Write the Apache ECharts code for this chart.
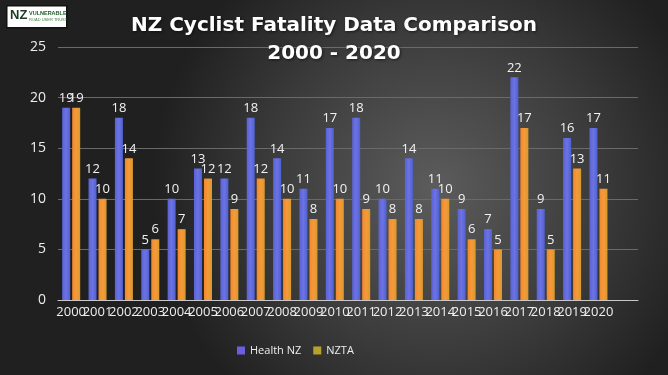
<!DOCTYPE html>
<html>
<head>
<meta charset="utf-8">
<script src="https://cdn.jsdelivr.net/npm/echarts@6/dist/echarts.min.js"></script>
<style>
  html, body { margin: 0; padding: 0; }
  #chart { width: 668px; height: 375px; }
</style>
</head>
<body>
<div id="chart"></div>
<script>
// data
const years = ['2000','2001','2002','2003','2004','2005','2006','2007','2008','2009','2010',
               '2011','2012','2013','2014','2015','2016','2017','2018','2019','2020']
const healthNZ = [19,12,18,5,10,13,12,18,14,11,17,18,10,14,11,9,7,22,9,16,17]
const nzta = [19,10,14,6,7,12,9,12,10,8,10,9,8,8,10,6,5,17,5,13,11]

let myChart = echarts.init(document.getElementById('chart'))

let labelStyle = {
  show: true,
  position: 'top',
  color: '#f2f2f2',
  fontSize: 13,
  fontFamily: 'Open Sans',
  distance: 3
}

myChart.setOption({
  backgroundColor: {
    type: 'radial', x: 0.65, y: 0.5, r: 0.75,
    colorStops: [
      { offset: 0, color: '#5c5c5c' },
      { offset: 0.6, color: '#3a3a3a' },
      { offset: 1, color: '#202020' }
    ]
  },
  title: {
    text: 'NZ Cyclist Fatality Data Comparison\n2000 - 2020',
    left: 'center',
    top: 7,
    textStyle: {
      color: '#fff',
      fontSize: 20,
      fontWeight: 'bold',
      fontFamily: 'DejaVu Sans',
      lineHeight: 28,
      textShadowColor: 'rgba(0,0,0,0.6)',
      textShadowBlur: 3,
      textShadowOffsetX: 1,
      textShadowOffsetY: 1
    }
  },
  graphic: [
    {
      type: 'rect',
      left: 6, top: 5,
      shape: { width: 60, height: 22 },
      style: { fill: '#fff', stroke: '#111', lineWidth: 1.5 }
    },
    {
      type: 'text',
      left: 10, top: 9,
      style: { text: 'NZ', fill: '#1d3a22', font: 'bold 13px Liberation Sans' }
    },
    {
      type: 'text',
      left: 29, top: 10,
      style: { text: 'VULNERABLE', fill: '#1f5a2a', font: 'bold 5.5px Liberation Sans' }
    },
    {
      type: 'text',
      left: 29, top: 18,
      style: { text: 'ROAD USER TRUST', fill: '#3a7a3a', font: '4px Liberation Sans' }
    }
  ],
  grid: {
    left: 58,
    right: 30,
    top: 47,
    bottom: 75
  },
  legend: {
    bottom: 14,
    left: 232,
    itemWidth: 8,
    itemHeight: 8,
    itemGap: 12,
    icon: 'rect',
    textStyle: { color: '#eee', fontSize: 11, fontFamily: 'Open Sans' },
    data: [
      { name: 'Health NZ', itemStyle: { color: '#6a5fe0' } },
      { name: 'NZTA', itemStyle: { color: '#b9a22c' } }
    ]
  },
  xAxis: {
    type: 'category',
    // Excel leaves an empty slot after the last year
    data: years.concat(['']),
    axisLine: { lineStyle: { color: '#c8c8c8', width: 1 } },
    axisTick: { show: false },
    axisLabel: {
      color: '#eee',
      fontSize: 13,
      fontFamily: 'Open Sans',
      interval: 0,
      margin: 6
    }
  },
  yAxis: {
    type: 'value',
    min: 0,
    max: 25,
    interval: 5,
    axisLine: { show: false },
    axisTick: { show: false },
    axisLabel: { color: '#eee', fontSize: 14, fontFamily: 'Open Sans', margin: 12 },
    splitLine: { lineStyle: { color: '#6a6a6a', width: 1 } }
  },
  series: [
    {
      name: 'Health NZ',
      type: 'bar',
      data: healthNZ,
      barWidth: 8,
      barGap: '25%',
      itemStyle: {
        color: {
          type: 'linear', x: 0, y: 0, x2: 1, y2: 0,
          colorStops: [
            { offset: 0, color: '#5a63d4' },
            { offset: 0.5, color: '#6d72e4' },
            { offset: 1, color: '#4d62d0' }
          ]
        }
      },
      label: labelStyle
    },
    {
      name: 'NZTA',
      type: 'bar',
      data: nzta,
      barWidth: 8,
      itemStyle: {
        color: {
          type: 'linear', x: 0, y: 0, x2: 1, y2: 0,
          colorStops: [
            { offset: 0, color: '#f2882e' },
            { offset: 0.5, color: '#f59a3a' },
            { offset: 1, color: '#d89a2c' }
          ]
        }
      },
      label: labelStyle
    }
  ]
})
</script>
</body>
</html>
